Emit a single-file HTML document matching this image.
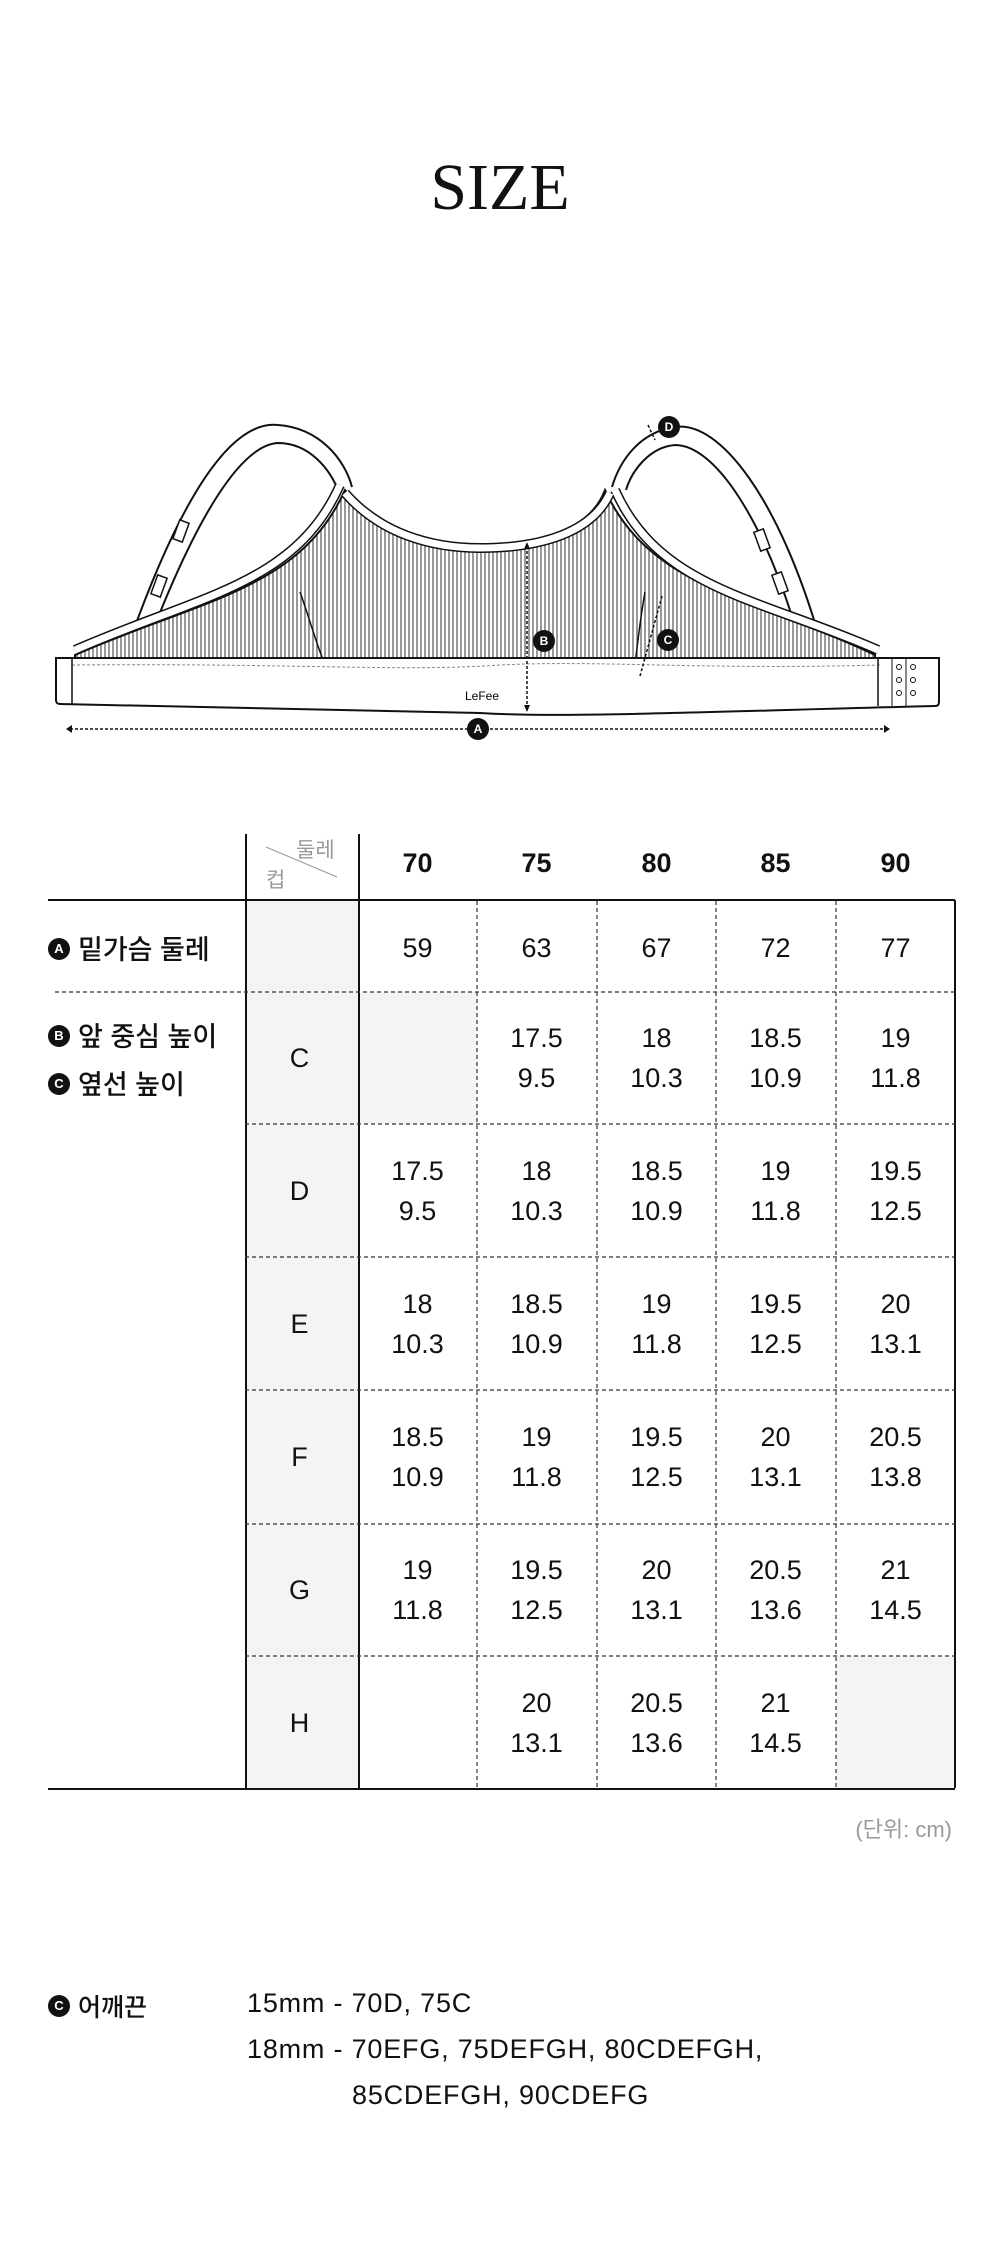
<!DOCTYPE html>
<html><head><meta charset="utf-8"><style>
*{margin:0;padding:0;box-sizing:border-box}
body{width:1000px;height:2261px;background:#fff;position:relative;overflow:hidden;font-family:"Liberation Sans","Noto Sans CJK KR",sans-serif;color:#111}
.a{position:absolute;white-space:nowrap}
.c{position:absolute;text-align:center;font-size:27px;line-height:40px;width:119px}
.circ{display:inline-block;width:22px;height:22px;border-radius:50%;background:#111;color:#fff;font-size:13px;font-weight:bold;text-align:center;line-height:22px;vertical-align:middle;margin-right:8px;position:relative;top:-3px}
.lab{font-size:27px;font-weight:500}
</style></head><body>
<div class="a" style="left:0;width:1000px;text-align:center;top:150px;font-family:'Liberation Serif',serif;font-size:66px;letter-spacing:0px">SIZE</div>

<svg class="a" style="left:0;top:380px" width="1000" height="380" viewBox="0 380 1000 380">
<defs><pattern id="st" width="4" height="10" patternUnits="userSpaceOnUse"><rect width="4" height="10" fill="#fff"/><line x1="1" y1="0" x2="1" y2="10" stroke="#555" stroke-width="1.2"/></pattern></defs>
<g fill="none" stroke="#111" stroke-width="2">
<path d="M130,640 C180,500 230,420 278,425 C320,428 345,460 352,487"/>
<path d="M148,643 C195,520 240,445 278,443 C310,443 330,470 338,490"/>
<path d="M820,640 C780,500 720,420 675,427 C640,432 620,460 612,487"/>
<path d="M800,643 C765,520 715,445 675,445 C650,447 632,470 626,490"/>
</g>
<g fill="#fff" stroke="#111" stroke-width="1.5">
<rect x="176" y="521" width="10" height="20" transform="rotate(20 181 531)"/>
<rect x="154" y="576" width="10" height="20" transform="rotate(20 159 586)"/>
<rect x="757" y="530" width="10" height="20" transform="rotate(-20 762 540)"/>
<rect x="775" y="573" width="10" height="20" transform="rotate(-20 780 583)"/>
</g>
<path d="M75,655 C200,600 300,590 345,490 C380,530 430,545 480,545 C540,545 590,530 605,490 C650,590 760,600 875,655 L875,667 L75,667 Z" fill="url(#st)" stroke="#111" stroke-width="2"/>
<path d="M75,650 C200,595 295,585 340,485 M345,493 C380,533 430,548 480,548 C540,548 592,533 610,493 M615,490 C660,590 760,598 878,650" fill="none" stroke="#111" stroke-width="10"/>
<path d="M75,650 C200,595 295,585 340,485 M345,493 C380,533 430,548 480,548 C540,548 592,533 610,493 M615,490 C660,590 760,598 878,650" fill="none" stroke="#fff" stroke-width="7"/>
<path d="M300,592 C310,620 315,640 325,665 M645,592 C640,620 638,640 635,665" fill="none" stroke="#111" stroke-width="1.5"/>
<path d="M56,658 L939,658 L939,702 Q939,706 935,706 C700,712 560,718 480,713 C300,710 150,706 60,704 Q56,704 56,700 Z" fill="#fff" stroke="#111" stroke-width="2"/>
<path d="M72,665 C300,663 400,672 500,665 C600,660 700,670 880,665" fill="none" stroke="#888" stroke-width="1" stroke-dasharray="3 2"/>
<line x1="72" y1="658" x2="72" y2="705" stroke="#111" stroke-width="1.5"/>
<line x1="878" y1="658" x2="878" y2="706" stroke="#111" stroke-width="1.5"/>
<line x1="892" y1="658" x2="892" y2="706" stroke="#111" stroke-width="1"/>
<line x1="906" y1="658" x2="906" y2="706" stroke="#111" stroke-width="1"/>
<g fill="none" stroke="#111" stroke-width="1"><circle cx="899" cy="667" r="2.5"/><circle cx="899" cy="680" r="2.5"/><circle cx="899" cy="693" r="2.5"/><circle cx="913" cy="667" r="2.5"/><circle cx="913" cy="680" r="2.5"/><circle cx="913" cy="693" r="2.5"/></g>
<text x="482" y="700" font-size="12" text-anchor="middle" font-family="Liberation Sans">LeFee</text>
<g stroke="#111" stroke-width="1.5" stroke-dasharray="3 2" fill="none">
<line x1="70" y1="729" x2="886" y2="729"/>
<line x1="527" y1="546" x2="527" y2="708"/>
<line x1="662" y1="596" x2="640" y2="676"/>
<line x1="648" y1="425" x2="655" y2="440"/>
</g>
<path d="M66,729 l6,-4 v8z M890,729 l-6,-4 v8z M527,542 l-3,7 h6z M527,712 l-3,-7 h6z" fill="#111"/>
<g fill="#111"><circle cx="478" cy="729" r="11"/><circle cx="544" cy="641" r="11"/><circle cx="668" cy="640" r="11"/><circle cx="669" cy="427" r="11"/></g>
<g fill="#fff" font-size="12" font-weight="bold" text-anchor="middle" font-family="Liberation Sans"><text x="478" y="733">A</text><text x="544" y="645">B</text><text x="668" y="644">C</text><text x="669" y="431">D</text></g>
</svg>

<!-- table -->
<div class="a" style="left:245px;top:900px;width:113px;height:888px;background:#f4f4f4"></div>
<div class="a" style="left:358px;top:992px;width:119px;height:132px;background:#f4f4f4"></div>
<div class="a" style="left:836px;top:1656px;width:119px;height:133px;background:#f4f4f4"></div>
<div class="a" style="left:245px;top:834px;width:1.5px;height:955px;background:#111"></div>
<div class="a" style="left:358px;top:834px;width:1.5px;height:955px;background:#111"></div>
<div class="a" style="left:954px;top:900px;width:1.5px;height:888px;background:#111"></div>
<div class="a" style="left:48px;top:899px;width:907px;height:2px;background:#111"></div>
<div class="a" style="left:48px;top:1788px;width:907px;height:2px;background:#111"></div>
<svg class="a" style="left:0;top:0" width="1000" height="1800">
<g stroke="#333" stroke-width="1.2" stroke-dasharray="4 3">
<line x1="477" y1="901" x2="477" y2="1788"/><line x1="597" y1="901" x2="597" y2="1788"/><line x1="716" y1="901" x2="716" y2="1788"/><line x1="836" y1="901" x2="836" y2="1788"/>
<line x1="55" y1="992" x2="955" y2="992"/>
<line x1="245" y1="1124" x2="955" y2="1124"/><line x1="245" y1="1257" x2="955" y2="1257"/><line x1="245" y1="1390" x2="955" y2="1390"/><line x1="245" y1="1524" x2="955" y2="1524"/><line x1="245" y1="1656" x2="955" y2="1656"/>
</g>
<line x1="266" y1="847" x2="337" y2="877" stroke="#999" stroke-width="1"/>
<text x="296" y="857" font-size="21" fill="#999" font-family="Noto Sans CJK KR">둘레</text>
<text x="266" y="887" font-size="21" fill="#999" font-family="Noto Sans CJK KR">컵</text>
</svg>
<div class="c" style="left:358px;top:843px;font-weight:bold">70</div>
<div class="c" style="left:477px;top:843px;font-weight:bold">75</div>
<div class="c" style="left:597px;top:843px;font-weight:bold">80</div>
<div class="c" style="left:716px;top:843px;font-weight:bold">85</div>
<div class="c" style="left:836px;top:843px;font-weight:bold">90</div>

<div class="a lab" style="left:48px;top:928px"><span class="circ">A</span>밑가슴 둘레</div>
<div class="a lab" style="left:48px;top:1015px"><span class="circ">B</span>앞 중심 높이</div>
<div class="a lab" style="left:48px;top:1063px"><span class="circ">C</span>옆선 높이</div>

<div class="c" style="left:358px;top:928px">59</div><div class="c" style="left:477px;top:928px">63</div><div class="c" style="left:597px;top:928px">67</div><div class="c" style="left:716px;top:928px">72</div><div class="c" style="left:836px;top:928px">77</div>

<div class="c" style="left:240px;top:1038px">C</div>
<div class="c" style="left:477px;top:1018px">17.5<br>9.5</div><div class="c" style="left:597px;top:1018px">18<br>10.3</div><div class="c" style="left:716px;top:1018px">18.5<br>10.9</div><div class="c" style="left:836px;top:1018px">19<br>11.8</div>

<div class="c" style="left:240px;top:1171px">D</div>
<div class="c" style="left:358px;top:1151px">17.5<br>9.5</div><div class="c" style="left:477px;top:1151px">18<br>10.3</div><div class="c" style="left:597px;top:1151px">18.5<br>10.9</div><div class="c" style="left:716px;top:1151px">19<br>11.8</div><div class="c" style="left:836px;top:1151px">19.5<br>12.5</div>

<div class="c" style="left:240px;top:1304px">E</div>
<div class="c" style="left:358px;top:1284px">18<br>10.3</div><div class="c" style="left:477px;top:1284px">18.5<br>10.9</div><div class="c" style="left:597px;top:1284px">19<br>11.8</div><div class="c" style="left:716px;top:1284px">19.5<br>12.5</div><div class="c" style="left:836px;top:1284px">20<br>13.1</div>

<div class="c" style="left:240px;top:1437px">F</div>
<div class="c" style="left:358px;top:1417px">18.5<br>10.9</div><div class="c" style="left:477px;top:1417px">19<br>11.8</div><div class="c" style="left:597px;top:1417px">19.5<br>12.5</div><div class="c" style="left:716px;top:1417px">20<br>13.1</div><div class="c" style="left:836px;top:1417px">20.5<br>13.8</div>

<div class="c" style="left:240px;top:1570px">G</div>
<div class="c" style="left:358px;top:1550px">19<br>11.8</div><div class="c" style="left:477px;top:1550px">19.5<br>12.5</div><div class="c" style="left:597px;top:1550px">20<br>13.1</div><div class="c" style="left:716px;top:1550px">20.5<br>13.6</div><div class="c" style="left:836px;top:1550px">21<br>14.5</div>

<div class="c" style="left:240px;top:1703px">H</div>
<div class="c" style="left:477px;top:1683px">20<br>13.1</div><div class="c" style="left:597px;top:1683px">20.5<br>13.6</div><div class="c" style="left:716px;top:1683px">21<br>14.5</div>

<div class="a" style="right:48px;top:1812px;font-size:22px;color:#999">(단위: cm)</div>

<div class="a" style="left:48px;top:1988px;font-size:25px;font-weight:500"><span class="circ">C</span>어깨끈</div>
<div class="a" style="left:247px;top:1988px;font-size:27px;letter-spacing:0.8px">15mm - 70D, 75C</div>
<div class="a" style="left:247px;top:2034px;font-size:27px;letter-spacing:0.8px">18mm - 70EFG, 75DEFGH, 80CDEFGH,</div>
<div class="a" style="left:352px;top:2080px;font-size:27px;letter-spacing:0.8px">85CDEFGH, 90CDEFG</div>
</body></html>
